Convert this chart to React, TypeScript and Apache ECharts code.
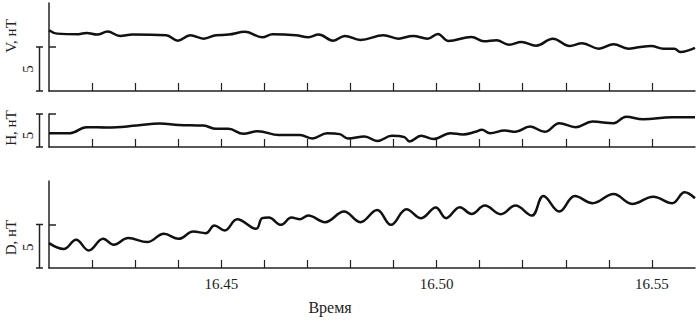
import React, { useEffect, useRef } from 'react';
import * as echarts from 'echarts';

const X_MIN = 16.41;
const X_MAX = 16.56;
const tickValues = [16.42, 16.43, 16.44, 16.45, 16.46, 16.47, 16.48, 16.49, 16.5, 16.51, 16.52, 16.53, 16.54, 16.55];
const labelValues = [16.45, 16.5, 16.55];
const xAxisTitle = 'Время';
const panelNames = ['V, нТ', 'H, нТ', 'D, нТ'];
const panelMax = [10, 5, 10];
const scaleBarValue = 5;

const vTime = [16.41, 16.4119, 16.4168, 16.4187, 16.4212, 16.4236, 16.4265, 16.4294, 16.4372, 16.4399, 16.4428, 16.4459, 16.4488, 16.4517, 16.4556, 16.4595, 16.4619, 16.4673, 16.4702, 16.4726, 16.476, 16.4787, 16.4823, 16.4877, 16.4911, 16.4945, 16.4979, 16.5003, 16.5027, 16.5081, 16.511, 16.5139, 16.5168, 16.5197, 16.5231, 16.527, 16.5309, 16.5338, 16.5377, 16.5411, 16.5445, 16.5469, 16.5498, 16.5527, 16.5552, 16.5566, 16.56];
const vVal = [6.91, 6.52, 6.45, 6.6, 6.41, 6.75, 6.26, 6.41, 6.34, 5.72, 6.34, 5.95, 6.34, 6.41, 6.72, 6.11, 6.45, 6.34, 6.11, 6.41, 5.72, 6.26, 5.8, 6.34, 5.95, 6.26, 5.95, 6.49, 5.69, 6.14, 5.65, 5.77, 5.26, 5.57, 5.15, 5.95, 5.11, 5.42, 4.81, 5.31, 4.81, 4.97, 5.11, 4.81, 4.81, 4.43, 4.89];

const hTime = [16.41, 16.4149, 16.4187, 16.4236, 16.4304, 16.4357, 16.4401, 16.4459, 16.4488, 16.4517, 16.4551, 16.4585, 16.4634, 16.4683, 16.4712, 16.4746, 16.4775, 16.4794, 16.4833, 16.4862, 16.4896, 16.4925, 16.4937, 16.4964, 16.4993, 16.5032, 16.5061, 16.509, 16.5105, 16.5124, 16.5158, 16.5183, 16.5217, 16.5251, 16.5285, 16.5323, 16.5362, 16.5411, 16.544, 16.5479, 16.5547, 16.56];
const hVal = [2.1, 2.1, 3.0, 2.95, 3.25, 3.55, 3.35, 3.25, 2.75, 2.75, 2.0, 2.4, 1.8, 1.8, 1.3, 2.1, 1.95, 1.3, 1.6, 0.9, 1.7, 1.5, 0.85, 1.7, 1.2, 2.1, 1.9, 2.3, 2.6, 2.1, 2.5, 2.3, 3.1, 2.3, 3.6, 3.0, 3.85, 3.6, 4.6, 4.2, 4.5, 4.5];

const dTime = [16.41, 16.4134, 16.4163, 16.4192, 16.4226, 16.425, 16.4284, 16.4328, 16.4367, 16.4401, 16.4435, 16.4464, 16.4484, 16.4508, 16.4537, 16.4581, 16.4595, 16.461, 16.4639, 16.4663, 16.4683, 16.4702, 16.4741, 16.4785, 16.4823, 16.4862, 16.4894, 16.493, 16.4964, 16.4998, 16.5022, 16.5054, 16.5081, 16.5112, 16.5149, 16.5183, 16.5221, 16.5248, 16.5285, 16.5321, 16.5362, 16.5411, 16.5454, 16.5503, 16.5547, 16.5576, 16.56];
const dVal = [2.86, 2.18, 3.24, 2.02, 3.36, 2.67, 3.44, 2.98, 3.93, 3.36, 4.19, 4.0, 4.88, 4.31, 5.61, 4.5, 5.73, 5.8, 4.96, 5.8, 5.61, 6.03, 5.27, 6.49, 5.27, 6.68, 4.96, 6.76, 5.73, 6.95, 5.73, 6.99, 6.22, 7.17, 6.19, 7.17, 6.03, 8.28, 6.49, 8.28, 7.45, 8.51, 7.37, 8.2, 7.45, 8.71, 8.02];

const FONT = "'Times New Roman', 'Liberation Serif', serif";
const AXIS_COLOR = '#222';
const TEXT_COLOR = '#222';

export default function App() {
  const ref = useRef<HTMLDivElement>(null);
  useEffect(() => {
    document.body.style.margin = '0';
    const chart = echarts.init(ref.current!, null, { renderer: 'svg' });
    const grids = [
      { left: 49, right: 5, top: 3, height: 88 },
      { left: 49, right: 5, top: 114, height: 33 },
      { left: 49, right: 5, top: 181, height: 87 },
    ];
    const series = [
      vTime.map((t, i) => [t, vVal[i]]),
      hTime.map((t, i) => [t, hVal[i]]),
      dTime.map((t, i) => [t, dVal[i]]),
    ];
    chart.setOption({
      animation: false,
      textStyle: { fontFamily: FONT },
      grid: grids,
      xAxis: grids.map((_, i) => ({
        type: 'value',
        gridIndex: i,
        min: X_MIN,
        max: X_MAX,
        interval: 0.01,
        axisLine: { show: true, onZero: false, lineStyle: { color: AXIS_COLOR, width: 1.5 } },
        axisTick: { show: true, inside: true, length: 8, customValues: tickValues, lineStyle: { color: AXIS_COLOR, width: 1.2 } },
        axisLabel: {
          show: i === 2,
          customValues: labelValues,
          formatter: (v: number) => v.toFixed(2),
          fontFamily: FONT,
          fontSize: 15,
          color: TEXT_COLOR,
          margin: 8,
        },
        splitLine: { show: false },
      })),
      yAxis: grids.map((_, i) => ({
        type: 'value',
        gridIndex: i,
        min: 0,
        max: panelMax[i],
        axisLine: { show: true, onZero: false, lineStyle: { color: AXIS_COLOR, width: 1.5 } },
        axisTick: { show: true, inside: true, length: 7, customValues: [scaleBarValue], lineStyle: { color: AXIS_COLOR, width: 1.5 } },
        axisLabel: { show: false },
        splitLine: { show: false },
      })),
      series: series.map((d, i) => ({
        type: 'line',
        xAxisIndex: i,
        yAxisIndex: i,
        data: d,
        showSymbol: false,
        smooth: 0.4,
        lineStyle: { color: '#111', width: 2.5 },
      })),
    });

    const barX = 39.5;
    const nameY = [36, 128, 237.5];
    const fiveOffset = [0, 5, 1];
    const graphic: any[] = [];
    const txt = (size: number) => ({ fontFamily: FONT, fontSize: size, fill: TEXT_COLOR, align: 'center', verticalAlign: 'middle' });
    for (let i = 0; i < 3; i++) {
      const y0 = chart.convertToPixel({ yAxisIndex: i } as any, 0) as number;
      const y5 = chart.convertToPixel({ yAxisIndex: i } as any, scaleBarValue) as number;
      const ls = { stroke: AXIS_COLOR, lineWidth: 1.5 };
      graphic.push({ type: 'line', shape: { x1: barX, y1: y5, x2: barX, y2: y0 }, style: ls });
      graphic.push({ type: 'line', shape: { x1: barX - 3.5, y1: y5, x2: barX + 3.5, y2: y5 }, style: ls });
      graphic.push({ type: 'line', shape: { x1: barX - 3.5, y1: y0, x2: barX + 3.5, y2: y0 }, style: ls });
      graphic.push({
        type: 'text',
        x: 27.5,
        y: (y0 + y5) / 2 + fiveOffset[i],
        rotation: Math.PI / 2,
        style: { text: String(scaleBarValue), ...txt(15) },
      });
      graphic.push({
        type: 'text',
        x: 11,
        y: nameY[i],
        rotation: Math.PI / 2,
        style: { text: panelNames[i], ...txt(15) },
      });
    }
    graphic.push({
      type: 'text',
      x: 330,
      y: 307,
      style: { text: xAxisTitle, ...txt(16) },
    });
    chart.setOption({ graphic });
    return () => chart.dispose();
  }, []);
  return <div ref={ref} style={{ width: 700, height: 321 }} />;
}
